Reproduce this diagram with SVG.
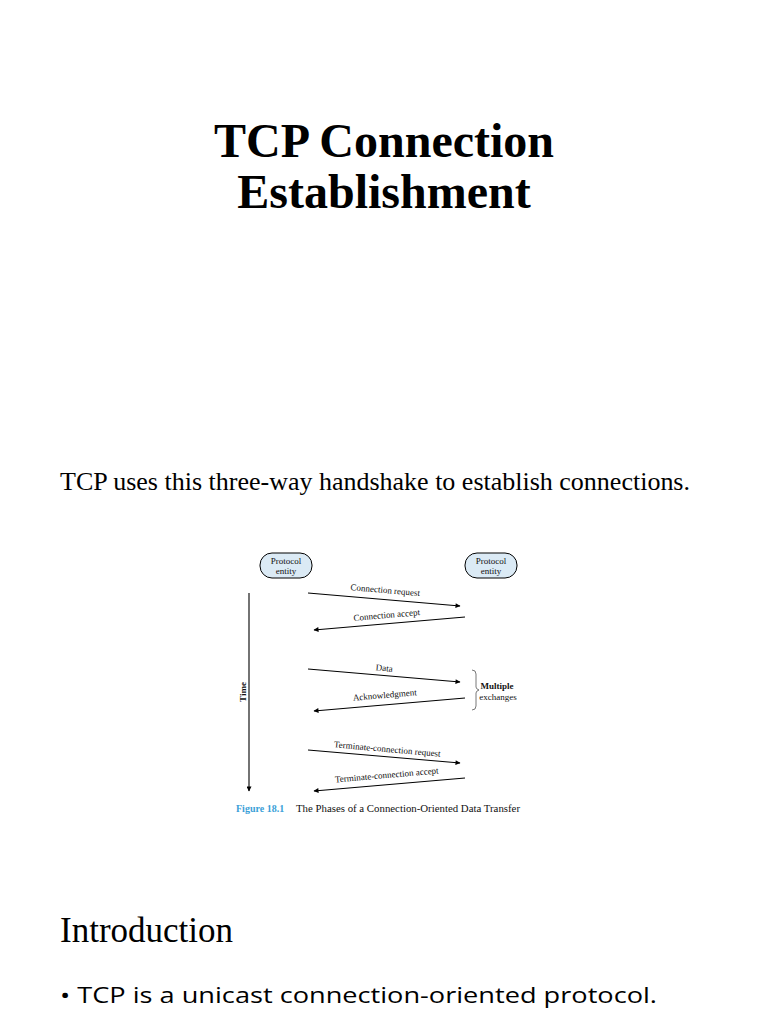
<svg xmlns="http://www.w3.org/2000/svg" width="768" height="1024" viewBox="0 0 768 1024">
<defs>
<marker id="ah" viewBox="0 0 10 10" refX="9" refY="5" markerWidth="7" markerHeight="5" orient="auto" markerUnits="userSpaceOnUse"><path d="M0,0L10,5L0,10z" fill="#000"/></marker>
<style>
.s{font-family:"Liberation Serif",serif;fill:#000}
.f{font-family:"Liberation Serif",serif;font-size:9px;fill:#111}
.n{fill:#dbeaf5;stroke:#000;stroke-width:1}
.c line{stroke:#000;stroke-width:1.1;marker-end:url(#ah)}
</style>
</defs>
<rect width="768" height="1024" fill="#fff"/>
<text class="s" x="384" y="157" text-anchor="middle" font-size="48" font-weight="bold">TCP Connection</text>
<text class="s" x="384" y="208" text-anchor="middle" font-size="48" font-weight="bold">Establishment</text>
<text class="s" x="60" y="490" font-size="25" textLength="630" lengthAdjust="spacingAndGlyphs">TCP uses this three-way handshake to establish connections.</text>
<g id="left"><rect class="n" x="260" y="553" width="52" height="25" rx="12"/><text class="f" x="286" y="564" text-anchor="middle">Protocol</text><text class="f" x="286" y="574" text-anchor="middle">entity</text></g>
<g id="right"><rect class="n" x="465" y="553" width="52" height="25" rx="12"/><text class="f" x="491" y="564" text-anchor="middle">Protocol</text><text class="f" x="491" y="574" text-anchor="middle">entity</text></g>
<g class="c">
<line x1="249" y1="593" x2="249" y2="791"/>
<line x1="308" y1="593" x2="460" y2="606"/>
<line x1="465" y1="617" x2="314" y2="630"/>
<line x1="308" y1="669" x2="460" y2="682"/>
<line x1="465" y1="698" x2="314" y2="711"/>
<line x1="308" y1="750" x2="460" y2="763"/>
<line x1="465" y1="778" x2="314" y2="791"/>
<path d="M472,670q4,0 4,4v13q0,2 3,3q-3,1 -3,3v13q0,4 -4,4" fill="none" stroke="#555" stroke-width="0.8"/>
</g>
<text class="f" font-weight="bold" transform="translate(246,692) rotate(-90)" text-anchor="middle">Time</text>
<text class="f" transform="translate(385,593) rotate(5)" text-anchor="middle">Connection request</text>
<text class="f" transform="translate(387,618) rotate(-5)" text-anchor="middle">Connection accept</text>
<text class="f" transform="translate(384,671) rotate(5)" text-anchor="middle">Data</text>
<text class="f" transform="translate(385,698) rotate(-5)" text-anchor="middle">Acknowledgment</text>
<text class="f" transform="translate(387,752) rotate(5)" text-anchor="middle">Terminate-connection request</text>
<text class="f" transform="translate(387,778) rotate(-5)" text-anchor="middle">Terminate-connection accept</text>
<text class="f" x="497" y="689" text-anchor="middle" font-weight="bold">Multiple</text>
<text class="f" x="498" y="700" text-anchor="middle">exchanges</text>
<text class="f" x="236" y="812" font-weight="bold" style="fill:#3a9fd8;font-size:10px">Figure 18.1</text>
<text class="f" x="296" y="812" style="font-size:10px" textLength="224" lengthAdjust="spacingAndGlyphs">The Phases of a Connection-Oriented Data Transfer</text>
<text class="s" x="60" y="942" font-size="35">Introduction</text>
<text x="60" y="1003" font-family="'Open Sans','Liberation Sans',sans-serif" font-size="22" textLength="597" lengthAdjust="spacingAndGlyphs">• TCP is a unicast connection-oriented protocol.</text>
</svg>
